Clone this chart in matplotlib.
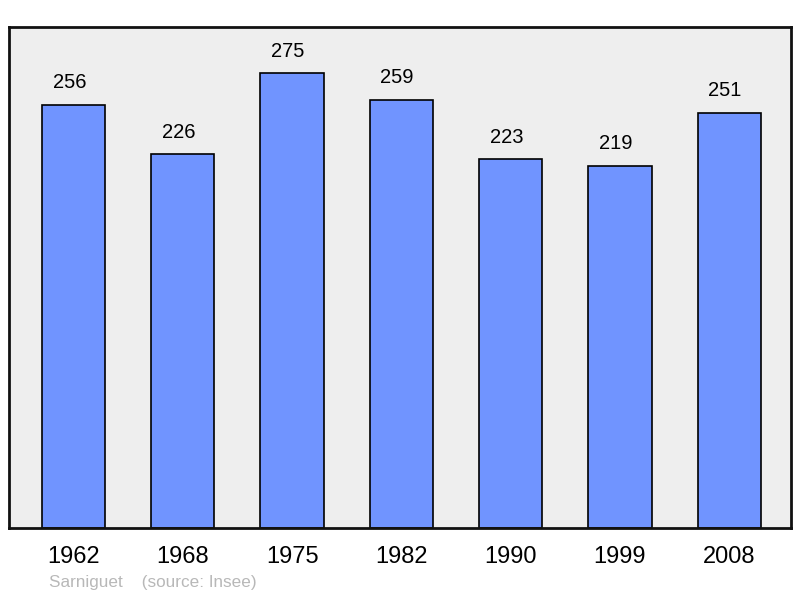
import numpy as np
import matplotlib.pyplot as plt

plt.rcParams['font.family'] = ['Liberation Sans', 'DejaVu Sans']

# population by census year
years = ['1962', '1968', '1975', '1982', '1990', '1999', '2008']
population = [256, 226, 275, 259, 223, 219, 251]

fig = plt.figure(figsize=(8, 5.98), dpi=100)
ax = fig.add_axes([9 / 800, 70 / 598, 782 / 800, 501 / 598])
ax.set_facecolor('#eeeeee')

x = np.arange(len(years))
ax.bar(x, population, width=0.58, color='#7094ff', edgecolor='black', linewidth=1.2, zorder=2)

for xi, v in zip(x, population):
    ax.annotate(str(v), (xi, v), xytext=(-3, 16), textcoords='offset points',
                ha='center', va='center', fontsize=14.5)

ax.set_xlim(-0.59, 6.565)
ax.set_ylim(0, 303)
ax.set_yticks([])
ax.set_xticks(x)
ax.set_xticklabels(years, fontsize=17)
ax.tick_params(axis='x', length=0, pad=13)
for s in ax.spines.values():
    s.set_linewidth(2)
    s.set_color('#111111')

fig.text(49 / 800, 1 - 583 / 598, 'Sarniguet    (source: Insee)', color='#b8b8b8',
         fontsize=12.3, ha='left', va='center')

fig.savefig('out.png', dpi=100)
